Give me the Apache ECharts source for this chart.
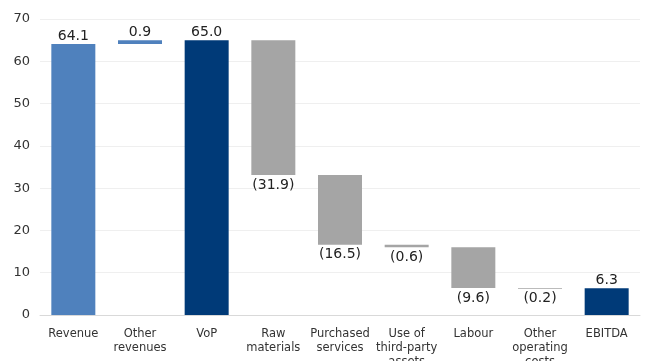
<!DOCTYPE html>
<html>
<head>
<meta charset="utf-8">
<script src="https://cdn.jsdelivr.net/npm/echarts@6/dist/echarts.min.js"></script>
<style>
    html, body { margin: 0; padding: 0; background: #fff; }
    #chart { width: 650px; height: 361px; }
</style>
</head>
<body>
<div id="chart"></div>
<script>
// categories and values
var categories = ['Revenue', 'Other\nrevenues', 'VoP', 'Raw\nmaterials', 'Purchased\nservices',
    'Use of\nthird-party\nassets', 'Labour', 'Other\noperating\ncosts', 'EBITDA'];
var values = [64.1, 0.9, 65.0, -31.9, -16.5, -0.6, -9.6, -0.2, 6.3];
// 'total' bars start from zero, 'delta' bars float on the running sum
var kinds = ['total', 'delta', 'total', 'delta', 'delta', 'delta', 'delta', 'delta', 'total'];
var colors = ['#4f81bd', '#4f81bd', '#003a78', '#a5a5a5', '#a5a5a5', '#a5a5a5', '#a5a5a5', '#a5a5a5', '#003a78'];
var yTicks = [0, 10, 20, 30, 40, 50, 60, 70];

var base_data = [];
var bar_data = [];
var running = 0;
for (var i = 0; i < values.length; i++) {
    var v = values[i];
    if (kinds[i] === 'total') {
        base_data.push(0);
        running = v;
    } else if (v >= 0) {
        base_data.push(running);
        running = running + v;
    } else {
        running = running + v;
        base_data.push(running);
    }
    bar_data.push({
        value: Math.abs(v),
        itemStyle: { color: colors[i] },
        label: {
            position: v >= 0 ? 'top' : 'bottom',
            distance: v >= 0 ? 1 : 3,
            formatter: v >= 0 ? v.toFixed(1) : '(' + Math.abs(v).toFixed(1) + ')'
        }
    });
}

var chart = echarts.init(document.getElementById('chart'));
var option = {
    animation: false,
    textStyle: { fontFamily: 'DejaVu Sans' },
    grid: {
        left: 40,
        right: 10,
        top: 19,
        bottom: 46,
        outerBoundsMode: 'none'
    },
    xAxis: {
        type: 'category',
        data: categories,
        axisLine: { lineStyle: { color: '#d9d9d9' } },
        axisTick: { show: false },
        axisLabel: {
            color: '#333',
            fontSize: 11.5,
            lineHeight: 14,
            margin: 12,
            interval: 0
        }
    },
    yAxis: {
        type: 'value',
        min: yTicks[0],
        max: yTicks[yTicks.length - 1],
        interval: 10,
        axisLine: { show: false },
        axisTick: { show: false },
        splitLine: { lineStyle: { color: '#efefef' } },
        axisLabel: { color: '#333', fontSize: 13, margin: 10 }
    },
    series: [
        {
            type: 'bar',
            stack: 'wf',
            barWidth: '66%',
            itemStyle: { color: 'transparent' },
            emphasis: { disabled: true },
            data: base_data
        },
        {
            type: 'bar',
            stack: 'wf',
            label: {
                show: true,
                color: '#222',
                fontSize: 14
            },
            data: bar_data
        }
    ]
};
chart.setOption(option);
</script>
</body>
</html>
